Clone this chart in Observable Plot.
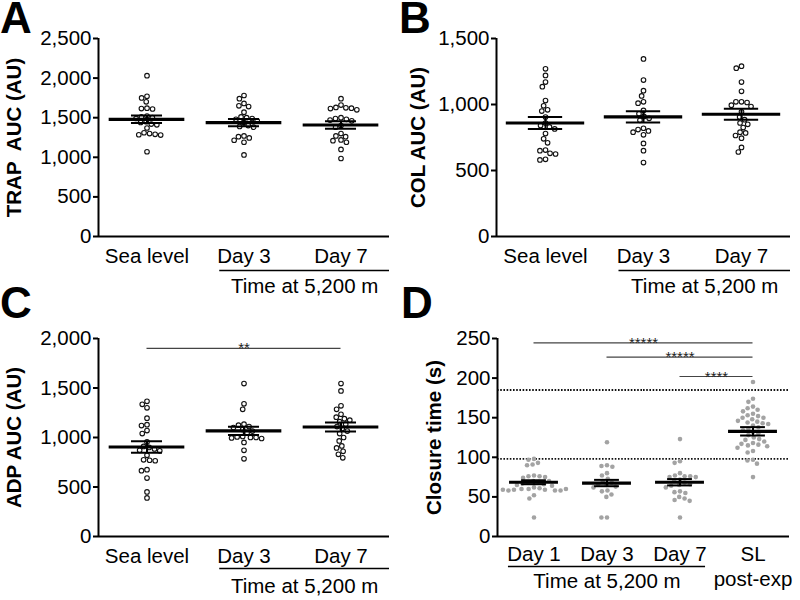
<!DOCTYPE html>
<html><head><meta charset="utf-8">
<script src="https://cdn.jsdelivr.net/npm/d3@7"></script>
<script src="https://cdn.jsdelivr.net/npm/@observablehq/plot@0.6"></script>
<style>
body{margin:0;background:#fff;}
#wrap{position:relative;width:800px;height:600px;overflow:hidden;background:#fff;font-family:"Liberation Sans",Arial,Helvetica,sans-serif;}
.panel{position:absolute;width:400px;height:300px;}
#letters{position:absolute;left:0;top:0;pointer-events:none;}
#letters text{font-family:"Liberation Sans",Arial,Helvetica,sans-serif;font-weight:bold;font-size:44px;fill:#000;}
</style></head><body>
<div id="wrap">
  <div class="panel" id="pA" style="left:0;top:0"></div>
  <div class="panel" id="pB" style="left:400px;top:0"></div>
  <div class="panel" id="pC" style="left:0;top:300px"></div>
  <div class="panel" id="pD" style="left:400px;top:300px"></div>
  <svg id="letters" width="800" height="600">
    <text x="0" y="33">A</text>
    <text x="399" y="33">B</text>
    <text x="0" y="318">C</text>
    <text x="401" y="318">D</text>
  </svg>
</div>
<script>
// ---------- data ----------
const catsABC = ["Sea level", "Day 3", "Day 7"];
const catsD = ["Day 1", "Day 3", "Day 7", "SL post-exp"];

const trapSeaLevel = [2030, 1770, 1750, 1700, 1620, 1615, 1610, 1520, 1510, 1500, 1490, 1450, 1440, 1420, 1410, 1370, 1310, 1300, 1290, 1285, 1280, 1070];
const trapDay3 = [1780, 1740, 1680, 1650, 1640, 1570, 1510, 1500, 1490, 1480, 1460, 1440, 1400, 1390, 1380, 1270, 1260, 1245, 1215, 1190, 1030];
const trapDay7 = [1740, 1660, 1630, 1625, 1620, 1615, 1600, 1500, 1490, 1480, 1470, 1460, 1400, 1380, 1300, 1270, 1260, 1220, 1210, 1190, 1100, 985];
const trapMean = [1480, 1438, 1408];
const trapSem = [48, 47, 47];
const trapTicks = [0, 500, 1000, 1500, 2000, 2500];

const colSeaLevel = [1270, 1220, 1170, 1135, 1030, 990, 960, 950, 905, 860, 840, 830, 815, 780, 740, 710, 655, 650, 630, 625, 585, 580];
const colDay3 = [1345, 1185, 1105, 1065, 1020, 1010, 955, 930, 910, 895, 880, 820, 810, 800, 790, 770, 705, 650, 560];
const colDay7 = [1290, 1275, 1170, 1100, 1020, 1020, 1015, 995, 985, 945, 905, 885, 860, 850, 825, 790, 785, 765, 745, 675, 640];
const colMean = [860, 906, 926];
const colSem = [45, 43, 42];
const colTicks = [0, 500, 1000, 1500];

const adpSeaLevel = [1365, 1335, 1300, 1195, 1130, 1120, 1070, 1040, 955, 910, 900, 885, 870, 865, 820, 775, 770, 765, 675, 665, 590, 450, 390];
const adpDay3 = [1545, 1340, 1285, 1135, 1125, 1110, 1100, 1080, 1065, 1045, 1010, 1005, 1000, 1000, 995, 990, 950, 870, 785];
const adpDay7 = [1545, 1470, 1320, 1285, 1235, 1205, 1190, 1175, 1160, 1135, 1110, 1090, 1065, 1040, 1000, 965, 915, 895, 860, 830, 795];
const adpMean = [904, 1066, 1106];
const adpSem = [59, 42, 45];
const adpTicks = [0, 500, 1000, 1500, 2000];
const adpBrackets = [{from: "Sea level", to: "Day 7", y: 1900, label: "**"}];

const closureDay1 = [98, 97, 93, 91, 90, 77, 76, 76, 75, 74, 70, 70, 69, 68, 67, 66, 65, 64, 62, 61, 60, 60, 59, 59, 58, 58, 58, 59, 60, 52, 48, 24];
const closureDay3 = [119, 90, 89, 88, 80, 77, 73, 70, 68, 66, 65, 63, 62, 58, 57, 53, 50, 24, 24];
const closureDay7 = [123, 95, 93, 80, 77, 76, 76, 75, 75, 72, 70, 68, 66, 65, 64, 62, 57, 56, 55, 50, 48, 46, 45, 24];
const closureSL = [195, 174, 170, 164, 162, 160, 158, 155, 153, 152, 150, 150, 148, 146, 145, 144, 143, 142, 140, 138, 136, 134, 132, 130, 128, 125, 123, 122, 120, 118, 117, 116, 115, 114, 112, 108, 106, 97, 96, 92, 75];
const closureMean = [68.5, 67.5, 68.5, 132.8];
const closureSem = [2.5, 4, 4, 5.3];
const closureTicks = [0, 50, 100, 150, 200, 250];
const closureRefLines = [185, 98];
const closureBrackets = [
  {from: "Day 1", to: "SL post-exp", y: 244.6, label: "*****"},
  {from: "Day 3", to: "SL post-exp", y: 226.4, label: "*****"},
  {from: "Day 7", to: "SL post-exp", y: 202, label: "****"}
];
const groupLabel = "Time at 5,200 m";

// ---------- drawing ----------
const FONT = "'Liberation Sans', Arial, Helvetica, sans-serif";
function panel(cfg) {
  const cats = cfg.cats, n = cats.length;
  const data = cats.flatMap((c, i) => cfg.series[i].map(v => ({cat: c, v})));
  const stats = cats.map((c, i) => ({cat: c, m: cfg.means[i], s: cfg.sems[i]}));
  const idx = c => cats.indexOf(c);
  const facetAt = g => Math.min(n - 1, Math.max(0, Math.floor((g + 1) / 2)));
  const segs = (g1, g2, extra) => {
    const out = [];
    for (let i = facetAt(g1); i <= facetAt(g2); i++) {
      const x1 = Math.max(-1, g1 - 2 * i), x2 = Math.min(1, g2 - 2 * i);
      if (x2 > x1) out.push({cat: cats[i], x1, x2, ...extra});
    }
    return out;
  };
  const point = (g, extra) => { const i = facetAt(g); return {cat: cats[i], x: g - 2 * i, ...extra}; };
  const y0 = cfg.yDomain[0];
  const brackets = cfg.brackets || [];
  const bracketSegs = brackets.flatMap(b => segs(2 * idx(b.from), 2 * idx(b.to), {y: b.y}));
  const bracketText = brackets.map(b => point(idx(b.from) + idx(b.to), {y: b.y, label: b.label}));
  const gs = 2 * idx(cfg.group.from) + cfg.group.startOffset;
  const ge = 2 * idx(cfg.group.to) + cfg.group.endOffset;
  const groupSegs = segs(gs, ge, {y: y0});
  const groupText = [point((gs + ge) / 2, {y: y0, label: cfg.group.label})];

  const marks = [];
  if (cfg.refLines) marks.push(Plot.ruleY(cfg.refLines, {stroke: "#111", strokeWidth: 1.8, strokeDasharray: "1.6,1.6"}));
  marks.push(
    Plot.dot(data, Plot.dodgeX("middle", {fx: "cat", y: "v", r: 2.3, padding: 1.6, ...cfg.dotStyle})),
    Plot.ruleY(stats, {fx: "cat", y: "m", x1: -cfg.meanHalf, x2: cfg.meanHalf, stroke: "#000", strokeWidth: 3.2}),
    Plot.ruleY(stats, {fx: "cat", y: d => d.m + d.s, x1: -cfg.semHalf, x2: cfg.semHalf, stroke: "#000", strokeWidth: 2}),
    Plot.ruleY(stats, {fx: "cat", y: d => d.m - d.s, x1: -cfg.semHalf, x2: cfg.semHalf, stroke: "#000", strokeWidth: 2}),
    Plot.ruleX(stats, {fx: "cat", x: 0, y1: d => d.m - d.s, y2: d => d.m + d.s, stroke: "#000", strokeWidth: 2}),
    Plot.ruleY(bracketSegs, {fx: "cat", y: "y", x1: "x1", x2: "x2", stroke: "#444", strokeWidth: 1.2}),
    Plot.text(bracketText, {fx: "cat", x: "x", y: "y", text: "label", fontSize: 15, lineAnchor: "bottom", dy: 5, fill: "#222"}),
    Plot.ruleY([y0], {stroke: "#000", strokeWidth: 2}),
    Plot.ruleX([-1], {fx: () => cats[0], stroke: "#000", strokeWidth: 2}),
    Plot.axisY(cfg.yTicks, {tickFormat: d3.format(","), tickSize: 5, tickPadding: 2, strokeWidth: 2, fontSize: 20.5, label: null}),
    Plot.axisFx({anchor: "bottom", tickSize: 0, tickPadding: cfg.tickPadding, fontSize: 20.5, lineHeight: 1.2, label: null,
                 tickFormat: d => d.replace(" post", "\npost")}),
    Plot.text([cfg.yLabel], {fx: () => cats[0], text: d => d, frameAnchor: "left", rotate: -90, dx: -cfg.labelOffset,
                             textAnchor: "middle", lineAnchor: "top", fontWeight: "bold", fontSize: 20.5}),
    Plot.ruleY(groupSegs, {fx: "cat", y: "y", x1: "x1", x2: "x2", dy: cfg.groupDy, stroke: "#000", strokeWidth: 1.3}),
    Plot.text(groupText, {fx: "cat", x: "x", y: "y", text: "label", fontSize: 20.5, lineAnchor: "middle", dy: cfg.groupTextDy})
  );
  return Plot.plot({
    width: 400, height: 300,
    marginLeft: cfg.marginLeft, marginRight: 10, marginTop: 38, marginBottom: 64,
    x: {domain: [-1, 1], axis: null},
    y: {domain: cfg.yDomain, axis: null},
    fx: {domain: cats, padding: 0, axis: null},
    style: {fontFamily: FONT, fontSize: "20.5px", background: "transparent", color: "#000", overflow: "visible"},
    marks
  });
}

const openDot = {stroke: "#111", fill: "#fff", strokeWidth: 1.1};
const grayDot = {fill: "#a3a3a3", stroke: "none"};
const abcGroup = {from: "Day 3", to: "Day 7", startOffset: -0.5, endOffset: 1.0, label: groupLabel};

document.getElementById("pA").append(panel({
  cats: catsABC, series: [trapSeaLevel, trapDay3, trapDay7], means: trapMean, sems: trapSem,
  yDomain: [0, 2500], yTicks: trapTicks, yLabel: "TRAP  AUC (AU)", labelOffset: 92, marginLeft: 97,
  dotStyle: openDot, meanHalf: 0.78, semHalf: 0.32, tickPadding: 9, group: abcGroup, groupDy: 34, groupTextDy: 50
}));
document.getElementById("pB").append(panel({
  cats: catsABC, series: [colSeaLevel, colDay3, colDay7], means: colMean, sems: colSem,
  yDomain: [0, 1500], yTicks: colTicks, yLabel: "COL AUC (AU)", labelOffset: 86, marginLeft: 96,
  dotStyle: openDot, meanHalf: 0.8, semHalf: 0.35, tickPadding: 9, group: abcGroup, groupDy: 34, groupTextDy: 50
}));
document.getElementById("pC").append(panel({
  cats: catsABC, series: [adpSeaLevel, adpDay3, adpDay7], means: adpMean, sems: adpSem,
  yDomain: [0, 2000], yTicks: adpTicks, yLabel: "ADP AUC (AU)", labelOffset: 92, marginLeft: 97,
  dotStyle: openDot, meanHalf: 0.78, semHalf: 0.32, tickPadding: 9, brackets: adpBrackets,
  group: abcGroup, groupDy: 32, groupTextDy: 50
}));
document.getElementById("pD").append(panel({
  cats: catsD, series: [closureDay1, closureDay3, closureDay7, closureSL], means: closureMean, sems: closureSem,
  yDomain: [0, 250], yTicks: closureTicks, yLabel: "Closure time (s)", labelOffset: 71, marginLeft: 96,
  dotStyle: grayDot, meanHalf: 0.67, semHalf: 0.34, tickPadding: 7, brackets: closureBrackets, refLines: closureRefLines,
  group: {from: "Day 1", to: "Day 7", startOffset: -0.7, endOffset: 0.7, label: groupLabel}, groupDy: 30, groupTextDy: 45
}));
</script>
</body></html>
